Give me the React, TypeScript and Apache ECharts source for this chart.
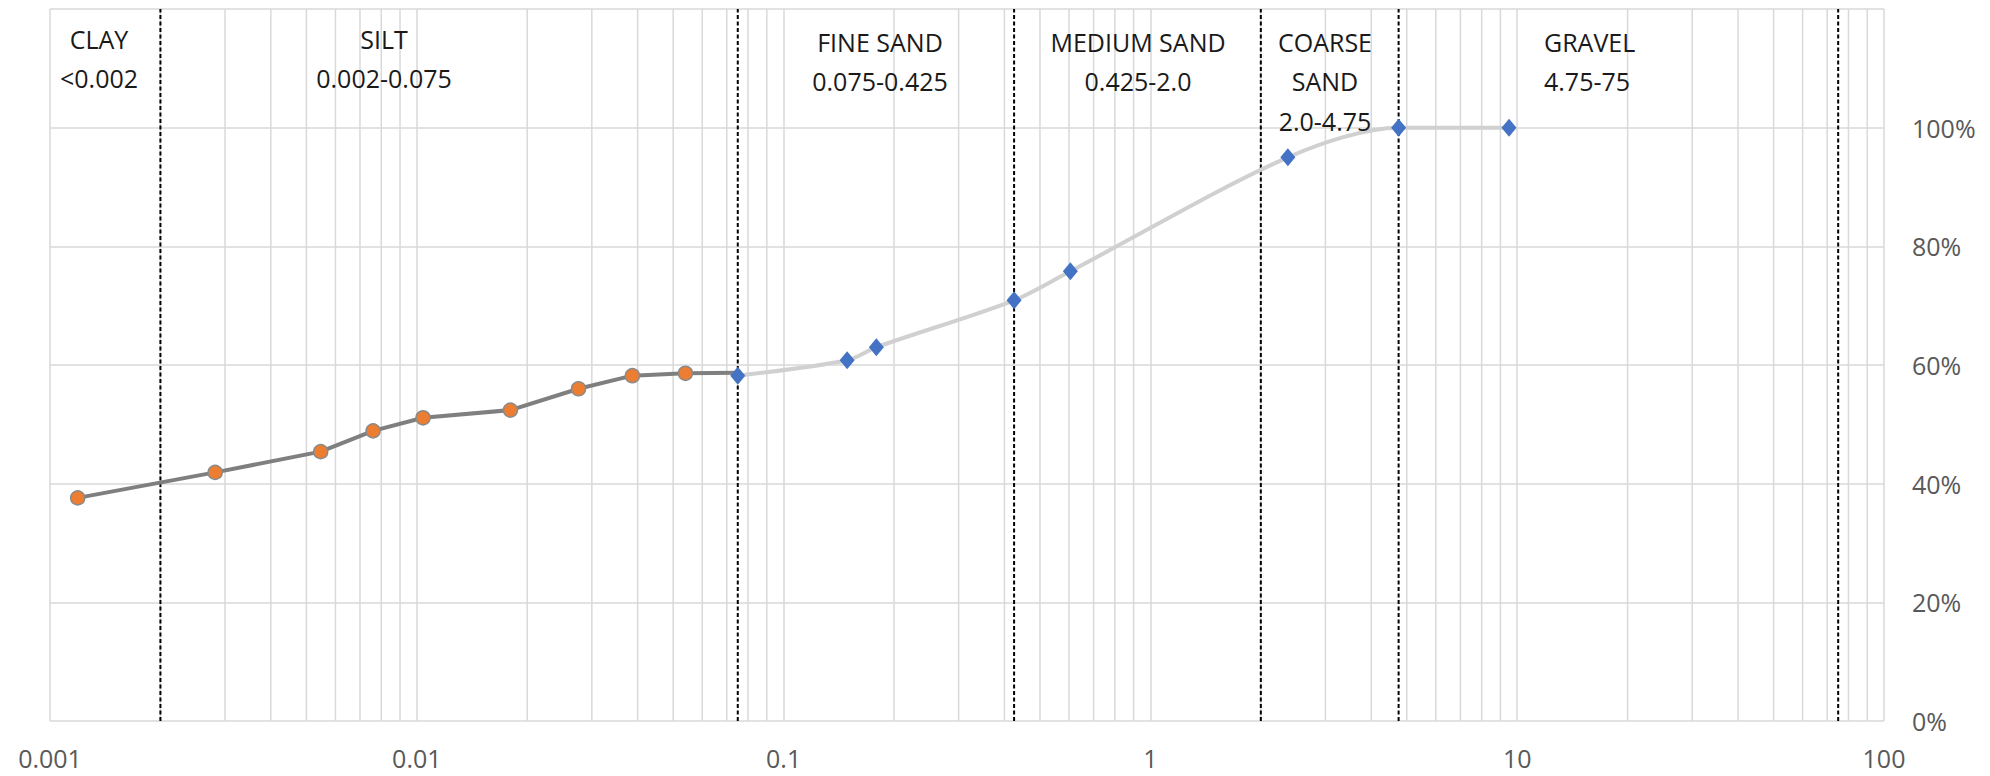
import React, { useEffect, useRef } from "react";
import * as echarts from "echarts";

// Hydrometer (fines) results: particle size (mm) and fraction passing
const finesSize = [0.00119, 0.00282, 0.00547, 0.0076, 0.0104, 0.018, 0.0276, 0.0387, 0.054, 0.075];
const finesPassing = [0.376, 0.419, 0.454, 0.489, 0.511, 0.524, 0.56, 0.582, 0.586, 0.587];
// Sieve results
const sieveSize = [0.075, 0.149, 0.179, 0.425, 0.605, 2.37, 4.75, 9.5];
const sievePassing = [0.582, 0.608, 0.63, 0.709, 0.758, 0.95, 1.0, 1.0];
// Soil class boundaries (mm)
const boundaries = [0.002, 0.075, 0.425, 2.0, 4.75, 75];
const zoneNames = ["CLAY", "SILT", "FINE SAND", "MEDIUM SAND", "COARSE\nSAND", "GRAVEL"];
const zoneRanges = ["<0.002", "0.002-0.075", "0.075-0.425", "0.425-2.0", "2.0-4.75", "4.75-75"];
const xTickLabels = ["0.001", "0.01", "0.1", "1", "10", "100"];
const yTickLabels = ["0%", "20%", "40%", "60%", "80%", "100%"];
const minorMultipliers = [2, 3, 4, 5, 6, 7, 8, 9];
const decades = [0.001, 0.01, 0.1, 1, 10];
const Y_MAX = 1.2;

const FONT = '"Open Sans", "Liberation Sans", sans-serif';
const GRID = "#d9d9d9";

function verticalLineSeries(values: number[], style: any, z: number) {
  return {
    type: "custom",
    silent: true,
    z,
    data: values.map((v) => [v, 0]),
    encode: { x: 0, y: 1 },
    renderItem: (_params: any, api: any) => {
      const v = api.value(0);
      const p0 = api.coord([v, 0]);
      const p1 = api.coord([v, Y_MAX]);
      return {
        type: "line",
        shape: { x1: p0[0], y1: p0[1], x2: p1[0], y2: p1[1] },
        style,
      };
    },
  };
}

export default function App() {
  const ref = useRef<HTMLDivElement>(null);
  useEffect(() => {
    if (!ref.current) return;
    const chart = echarts.init(ref.current, null, { renderer: "svg" });

    const minorValues: number[] = [];
    decades.forEach((d) => minorMultipliers.forEach((m) => minorValues.push(+(d * m).toPrecision(6))));

    const zoneLayout = [
      { x: 99, y: 19, align: "center" },
      { x: 384, y: 19, align: "center" },
      { x: 880, y: 22, align: "center" },
      { x: 1138, y: 22, align: "center" },
      { x: 1325, y: 22, align: "center" },
      { x: 1544, y: 22, align: "left" },
    ];

    const graphic = zoneNames.map((n, i) => ({
      type: "text",
      x: zoneLayout[i].x,
      y: zoneLayout[i].y,
      z: 10,
      style: {
        text: n + "\n" + zoneRanges[i],
        fill: "#1a1a1a",
        fontSize: 25,
        fontFamily: FONT,
        align: zoneLayout[i].align,
        verticalAlign: "top",
        lineHeight: 39.5,
      },
    }));

    chart.setOption({
      animation: false,
      backgroundColor: "#ffffff",
      grid: { left: 50, right: 106, top: 9, bottom: 55, containLabel: false },
      xAxis: {
        type: "log",
        logBase: 10,
        min: 0.001,
        max: 100,
        axisLine: { show: false },
        axisTick: { show: false },
        axisLabel: {
          color: "#595959",
          fontSize: 25,
          fontFamily: FONT,
          margin: 24,
          showMinLabel: true,
          showMaxLabel: true,
          formatter: (v: number) => {
            const i = Math.round(Math.log10(v)) + 3;
            return xTickLabels[i] ?? "";
          },
        },
        splitLine: { show: true, lineStyle: { color: GRID, width: 1.5 } },
      },
      yAxis: {
        type: "value",
        position: "right",
        min: 0,
        max: Y_MAX,
        interval: 0.2,
        axisLine: { show: false },
        axisTick: { show: false },
        axisLabel: {
          color: "#595959",
          fontSize: 25,
          fontFamily: FONT,
          margin: 28,
          align: "left",
          formatter: (v: number) => yTickLabels[Math.round(v / 0.2)] ?? "",
        },
        splitLine: { show: true, lineStyle: { color: GRID, width: 1.5 } },
      },
      graphic,
      series: [
        verticalLineSeries(minorValues, { stroke: GRID, lineWidth: 1.5 }, 1),
        verticalLineSeries(boundaries, { stroke: "#000000", lineWidth: 2, lineDash: [4, 2.5] }, 2),
        {
          type: "line",
          name: "Hydrometer",
          z: 3,
          data: finesSize.map((s, i) =>
            i === finesSize.length - 1
              ? { value: [s, finesPassing[i]], symbol: "none" }
              : { value: [s, finesPassing[i]] }
          ),
          symbol: "circle",
          symbolSize: 14,
          itemStyle: { color: "#ED7D31", borderColor: "#8a8a8a", borderWidth: 1.5 },
          lineStyle: { color: "#7f7f7f", width: 4 },
        },
        {
          type: "line",
          name: "Sieve",
          z: 4,
          smooth: 0.3,
          data: sieveSize.map((s, i) => [s, sievePassing[i]]),
          symbol: "diamond",
          symbolSize: [15, 18],
          itemStyle: { color: "#4472C4", borderWidth: 0 },
          lineStyle: { color: "#d0d0d0", width: 4 },
        },
      ],
    });
    return () => chart.dispose();
  }, []);
  return (
    <div
      ref={ref}
      style={{ position: "absolute", left: 0, top: 0, width: 1990, height: 776 }}
    />
  );
}
